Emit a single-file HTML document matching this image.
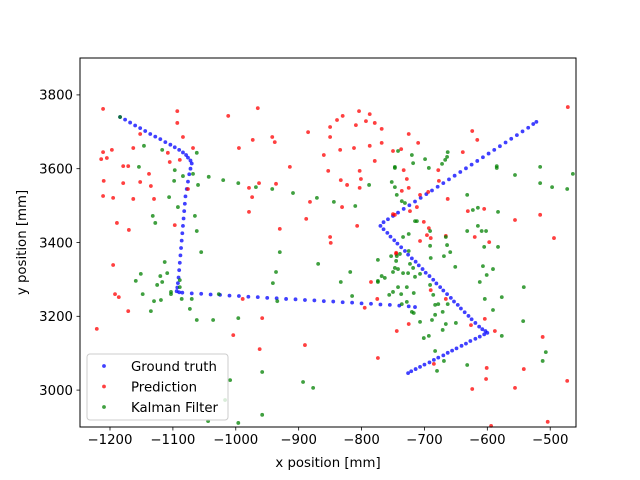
<!DOCTYPE html>
<html><head><meta charset="utf-8"><style>
html,body{margin:0;padding:0;background:#fff;}
svg{display:block;font-family:"DejaVu Sans","Liberation Sans",sans-serif;}
</style></head><body>
<svg id="chart" width="640" height="480" viewBox="0 0 640 480" xmlns="http://www.w3.org/2000/svg">
<rect x="0" y="0" width="640" height="480" fill="#fff"/>
<g id="marks"></g>
<g id="axes"></g>
</svg>
<script>
const xTicks = [-1200,-1100,-1000,-900,-800,-700,-600,-500];
const yTicks = [3000,3200,3400,3600,3800];
const gtX = [-1184,-1176,-1168,-1160,-1152,-1144,-1136,-1128,-1120,-1112,-1104,-1097,-1090,-1084,-1079,
-1076,-1072,-1070,-1072,-1074,-1076,-1078,-1080,-1081,-1082,-1083,-1084,-1085,-1086,-1087,-1088,-1089,-1090,-1091,-1092,-1093,-1094,-1090,-1085,
-1070,-1055,-1040,-1025,-1010,-995,-980,-965,-950,-935,-920,-905,-890,-875,-860,-845,-830,-815,-800,-785,-770,-755,-740,-725,-715,
-765,-758,-750,-742,-733,-724,-715,-706,-697,-688,-679,-670,-661,-652,-643,-634,-625,-616,-607,-598,-589,-580,-571,-562,-553,-544,-535,-527,-522,
-770,-765,-759,-754,-748,-743,-737,-731,-726,-720,-714,-709,-703,-698,-692,-686,-681,-675,-670,-664,-658,-653,-647,-642,-636,-630,-625,-619,-613,-608,-603,-600,
-605,-612,-619,-627,-634,-641,-649,-656,-663,-670,-678,-685,-692,-700,-707,-714,-721,-726];
const gtY = [3740,3733,3725,3717,3710,3702,3694,3687,3680,3672,3665,3658,3651,3644,3637,
3630,3622,3614,3600,3585,3565,3545,3525,3505,3485,3465,3445,3425,3405,3385,3365,3345,3325,3305,3290,3278,3268,3265,3264,
3262,3261,3259,3258,3256,3255,3253,3252,3250,3249,3247,3246,3244,3243,3241,3240,3238,3237,3235,3234,3232,3231,3229,3227,3225,
3455,3463,3472,3481,3491,3501,3511,3521,3531,3541,3551,3561,3571,3581,3591,3601,3611,3621,3631,3641,3651,3661,3671,3681,3691,3701,3711,3721,3727,
3445,3436,3426,3416,3406,3397,3387,3377,3367,3357,3348,3338,3328,3318,3309,3299,3289,3279,3270,3260,3250,3240,3231,3221,3211,3201,3192,3182,3172,3165,3160,3155,
3151,3145,3139,3133,3126,3120,3113,3107,3101,3094,3088,3082,3075,3069,3063,3057,3051,3046];
const predX = [-1211,-1093,-965,-1012,-1093,-1152,-1084,-1197,-1211,-1163,-1205,-1214,-1105,-1108,-1089,-1068,-1179,-1171,-1138,-1210,-1179,-1152,-1135,-1076,-1211,-1195,-1163,-1130,-1189,-1170,-1097,-1195,-1192,-1186,-1171,
-973,-942,-938,-995,-885,-850,-839,-830,-804,-787,-793,-779,-809,-768,-850,-768,-787,-812,-834,-860,-750,-779,-914,-853,-803,-833,-801,-823,-803,-963,-936,-979,-974,-882,-831,-979,-888,-807,-930,-850,-849,-747,-745,-785,-775,-795,-989,
-472,-725,-624,-616,-710,-737,-639,-678,-733,-677,-728,-736,-725,-694,-707,-663,-723,-712,-631,-605,-750,-516,-556,-701,-693,-696,-690,-666,-707,-620,-597,-494,-745,-690,-666,-604,-626,-588,-744,-725,-774,-685,-601,-542,-602,-556,-624,
-1221,-1004,-962,-890,-958,-504,-594,-473,-512];
const predY = [3762,3756,3764,3743,3724,3694,3686,3651,3645,3656,3629,3626,3618,3643,3624,3656,3607,3607,3586,3567,3561,3564,3553,3545,3526,3521,3518,3518,3453,3434,3447,3339,3260,3252,3214,
3678,3686,3672,3656,3699,3713,3732,3743,3756,3748,3729,3724,3718,3708,3686,3670,3662,3656,3651,3637,3648,3621,3605,3594,3594,3569,3572,3556,3548,3561,3559,3548,3523,3510,3496,3483,3464,3445,3437,3415,3399,3475,3372,3293,3247,3223,3247,
3767,3694,3702,3678,3670,3653,3645,3596,3596,3567,3572,3540,3548,3537,3529,3518,3485,3496,3485,3491,3477,3475,3461,3456,3439,3420,3412,3418,3404,3415,3401,3412,3369,3271,3247,3193,3176,3160,3160,3179,3087,3071,3060,3057,3030,3006,3003,
3166,3149,3111,3122,3195,2914,2903,3025,3144];
const kalX = [-1184,-1146,-1117,-1062,-1154,-1097,-1084,-1068,-1098,-1060,-1043,-1020,-996,-968,-942,-909,-871,-844,-810,-788,-747,-742,-1106,-1092,-1132,-1128,-1065,-1062,-1055,-930,-869,-818,-936,-941,-833,-774,
-1113,-1151,-1159,-1120,-1109,-1117,-1125,-1089,-1089,-1148,-1103,-1103,-1130,-1119,-1086,-1070,-1135,-1073,-1062,-1036,-996,-1027,-934,-815,
-516,-556,-464,-516,-497,-473,-585,-585,-632,-623,-615,-583,-615,-609,-602,-632,-605,-583,-607,-591,-601,-612,-542,-577,-604,-591,-543,-577,-507,-512,-632,-669,-683,-680,
-663,-664,-667,-672,-693,-699,-718,-720,-747,-752,-747,-744,-736,-731,-715,-712,-725,-734,-691,-666,-691,-664,-659,-669,-690,-725,-744,-739,-753,-774,-745,-723,-718,-747,-750,-742,-734,-726,-707,-715,-763,-768,-774,-651,
-742,-737,-750,-756,-728,-717,-691,-686,-678,-683,-663,-728,-736,-720,-717,-683,-671,-688,-707,-701,-693,-666,-650,-671,
-1044,-996,-958,-1009,-958,-1017,-893,-877];
const kalY = [3740,3662,3651,3643,3605,3596,3580,3586,3567,3556,3578,3569,3561,3550,3545,3534,3521,3510,3499,3556,3605,3648,3523,3496,3472,3453,3472,3431,3374,3374,3342,3320,3320,3290,3293,3296,
3347,3315,3296,3309,3317,3293,3285,3298,3279,3260,3266,3260,3241,3244,3247,3247,3214,3220,3190,3190,3195,3260,3241,3255,
3605,3583,3586,3561,3550,3545,3607,3602,3529,3488,3494,3483,3445,3431,3431,3431,3388,3388,3336,3328,3312,3293,3279,3252,3247,3217,3187,3147,3103,3079,3068,3079,3106,3052,
3645,3632,3624,3613,3602,3626,3615,3637,3602,3564,3550,3529,3512,3507,3458,3458,3423,3415,3431,3415,3391,3393,3374,3363,3358,3377,3363,3369,3363,3353,3350,3342,3331,3331,3320,3328,3317,3317,3315,3307,3304,3309,3293,3334,
3279,3260,3266,3258,3279,3263,3285,3258,3233,3231,3233,3239,3233,3212,3209,3204,3212,3190,3185,3141,3147,3179,3182,3163,
2916,2911,3049,3027,2933,2973,3022,3006];

const L=80,R=576,T=58,B=427;
const X0=-1247.7,X1=-459, Y0=2900,Y1=3900;
function sx(v){return L+(v-X0)/(X1-X0)*(R-L);}
function sy(v){return B-(v-Y0)/(Y1-Y0)*(B-T);}
const NS="http://www.w3.org/2000/svg";
function mk(tag,attrs,parent){const e=document.createElementNS(NS,tag);for(const k in attrs)e.setAttribute(k,attrs[k]);parent.appendChild(e);return e;}
const marks=document.getElementById('marks');
const axes=document.getElementById('axes');
function series(xs,ys,color,name){
  const g=mk('g',{},marks);
  
  
  for(let i=0;i<xs.length;i++){
    const c=mk('circle',{cx:sx(xs[i]).toFixed(2),cy:sy(ys[i]).toFixed(2),r:1.9,fill:color,'fill-opacity':0.75},g);
    
    
  }
}
series(gtX,gtY,'#0000ff','ground-truth');
series(predX,predY,'#ff0000','prediction');
series(kalX,kalY,'#008000','kalman-filter');
// frame
const frame=mk('rect',{x:L,y:T,width:R-L,height:B-T,fill:'none',stroke:'#000','stroke-width':1},axes);


xTicks.forEach(v=>{
  const x=sx(v);
  mk('line',{x1:x,y1:B,x2:x,y2:B+3.5,stroke:'#000','stroke-width':0.8},axes);
  const t=mk('text',{x:x,y:B+17,'text-anchor':'middle','font-size':'13.3px',fill:'#000'},axes);
  t.textContent='\u2212'+Math.abs(v);
  
  
});
yTicks.forEach(v=>{
  const y=sy(v);
  mk('line',{x1:L-3.5,y1:y,x2:L,y2:y,stroke:'#000','stroke-width':0.8},axes);
  const t=mk('text',{x:L-7,y:y+4.8,'text-anchor':'end','font-size':'13.3px',fill:'#000'},axes);
  t.textContent=String(v);
  
  
});
const xl=mk('text',{x:(L+R)/2,y:467,'text-anchor':'middle','font-size':'13.3px',fill:'#000'},axes);
xl.textContent='x position [mm]';


const yl=mk('text',{x:0,y:0,'text-anchor':'middle','font-size':'13.3px',fill:'#000',transform:'translate(26,'+((T+B)/2)+') rotate(-90)'},axes);
yl.textContent='y position [mm]';


// legend
const lg=mk('g',{},axes);


mk('rect',{x:87,y:354,width:141,height:66,rx:3,fill:'#fff','fill-opacity':0.8,stroke:'#ccc','stroke-width':1},lg);
const entries=[['Ground truth','#0000ff'],['Prediction','#ff0000'],['Kalman Filter','#008000']];
entries.forEach((e,i)=>{
  const y=366+i*20.5;
  const le=mk('g',{},lg);
  
  
  mk('circle',{cx:104,cy:y,r:1.9,fill:e[1],'fill-opacity':0.75},le);
  const t=mk('text',{x:131,y:y+4.8,'font-size':'13.3px',fill:'#000'},le);
  t.textContent=e[0];
});
</script>
</body></html>
